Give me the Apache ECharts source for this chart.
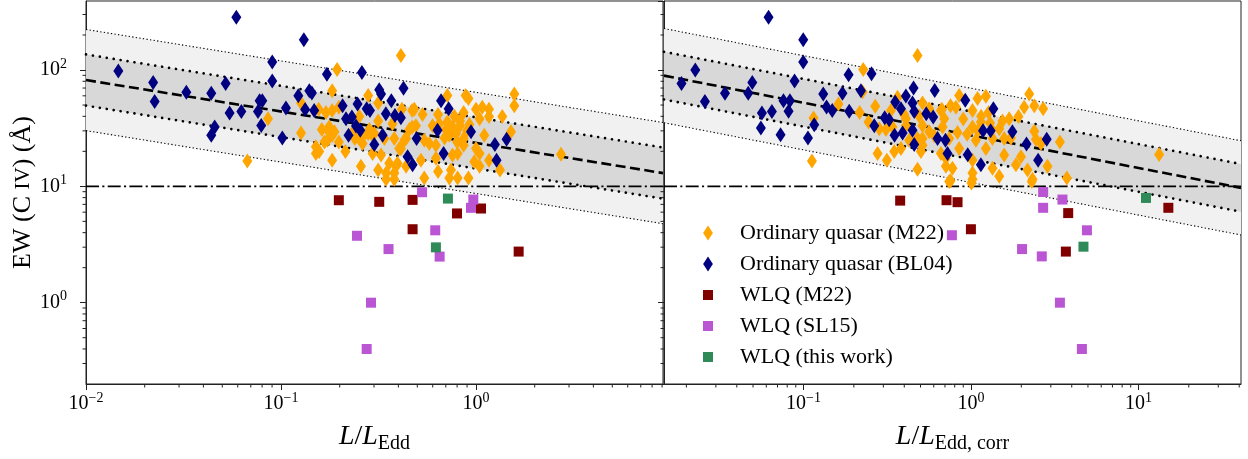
<!DOCTYPE html>
<html><head><meta charset="utf-8">
<script src="https://cdn.jsdelivr.net/npm/echarts@6/dist/echarts.min.js"></script>
<style>html,body{margin:0;padding:0;background:#fff}#c{width:1248px;height:459px}</style>
</head><body><div id="c"></div>
<script>
// ---------------- DATA ----------------
// Left panel: x = L/L_Edd, y = EW(C IV) [Å]
const leftOrdM22 = [[0.0672,16.5],[0.0858,38.1],[0.1267,28.8],[0.1267,52.1],[0.194,101],[0.183,66.2],[0.412,133],[0.28,60.5],[0.157,19.9],[0.151,21.9],[0.167,24.1],[0.183,16.8],[0.214,19.9],[0.257,14.9],[0.315,13.8],[0.346,11.5],[0.389,14.9],[0.381,11.5],[0.183,44.8],[0.17,43.2],[0.173,30.8],[0.188,29.4],[0.198,24.1],[0.239,30.8],[0.252,25.8],[0.28,28.4],[0.301,28.4],[0.315,52.1],[0.326,18.6],[0.404,21.2],[0.429,24.9],[0.455,30.8],[0.471,44.8],[0.492,33.2],[0.156,46],[0.198,47.9],[0.252,39.8],[0.315,36.4],[0.373,34.5],[0.417,46],[0.162,30.8],[0.177,32.4],[0.183,27.5],[0.173,24.9],[0.284,30.8],[0.295,27.5],[0.262,26.6],[0.239,25.8],[0.262,23.3],[0.339,25.8],[0.381,25.8],[0.151,19.2],[0.295,19.2],[0.346,13],[0.359,15.8],[0.396,15.8],[0.381,13],[0.713,60.5],[0.885,60.5],[0.915,56.9],[1.0,46],[1.077,47.9],[1.166,46],[1.572,62.1],[1.572,49.4],[1.364,39.8],[1.512,29.4],[0.483,46],[0.532,41.5],[0.639,41.5],[0.864,43.2],[1.043,38.1],[1.166,39.8],[0.471,32.4],[0.599,33.2],[0.713,35.7],[0.758,32.4],[0.828,33.2],[0.828,36.4],[0.702,30.8],[0.73,27.5],[0.79,28.4],[0.864,25.8],[1.103,27.5],[0.438,25.8],[0.543,24.9],[0.576,23.3],[0.623,22.6],[0.864,22.6],[1.0,21.2],[0.805,19.2],[0.758,18.6],[1.043,19.2],[0.623,17.4],[0.98,16.3],[1.166,16.8],[1.328,13.8],[0.438,14.9],[0.522,16.8],[0.639,13.4],[0.744,13.8],[0.543,11.8],[0.73,11.8],[0.805,11.8],[0.915,11.8],[1.043,14.9],[0.412,21.2],[2.73,18.9],[0.648,34.5],[0.775,40],[0.925,34],[0.8,24],[0.69,26],[0.9,30]];
const leftOrdBL04 = [[0.01465,98],[0.0221,78.2],[0.0225,53.5],[0.0327,64.3],[0.0439,63],[0.0439,27.5],[0.0457,32.4],[0.059,284],[0.052,76.6],[0.0545,42.8],[0.0626,44],[0.0762,44],[0.0777,54.5],[0.0802,54.5],[0.0792,33.4],[0.0902,117],[0.0902,80.5],[0.1016,26.1],[0.106,47.2],[0.131,182],[0.1227,60.1],[0.1397,66.2],[0.144,63.4],[0.133,45.7],[0.148,44.8],[0.172,91.8],[0.207,49.4],[0.2155,38.1],[0.231,39.4],[0.222,27.5],[0.247,51],[0.2425,33],[0.255,30.3],[0.26,95],[0.275,46.4],[0.286,44.8],[0.319,67.6],[0.326,62.1],[0.368,54.5],[0.345,42],[0.384,40.6],[0.412,38.8],[0.425,69.8],[0.332,27.5],[0.301,22.9],[0.446,18],[0.473,15.3],[0.496,25.8],[0.635,30.3],[0.662,54.5],[0.724,46.4],[0.682,19.2],[0.943,29.4],[1.25,22.9],[1.435,25.4],[1.275,16.8]];
const leftWlqM22 = [[0.198,7.6],[0.319,7.36],[0.473,7.65],[0.473,4.28],[0.799,5.85],[1.061,6.45],[1.655,2.75]];
const leftWlqSL15 = [[0.2453,3.76],[0.356,2.89],[0.2895,1.0],[0.275,0.40],[0.529,8.9],[0.969,7.7],[0.943,6.54],[0.618,4.19],[0.651,2.49]];
const leftWlqThis = [[0.718,7.85],[0.623,2.99]];

// Right panel: x = L/L_Edd,corr
const rightOrdM22 = [[0.2275,101],[0.48,133],[0.2254,65],[0.1618,51],[0.2684,48.9],[0.2165,43.2],[0.2447,35.7],[0.1149,38.6],[0.1124,16.5],[0.277,19.2],[0.315,16.8],[0.3484,19.9],[0.3645,58.2],[0.34,32.4],[0.311,30.8],[0.409,38.1],[0.514,52.1],[0.48,14],[0.503,19.9],[0.514,25.8],[0.5637,29.4],[0.677,32.4],[0.709,14.9],[0.756,11.2],[0.756,49.4],[0.814,47.9],[0.5637,46.4],[0.662,44.8],[0.693,38.1],[0.333,44.8],[0.4,41.2],[0.491,40.2],[0.2835,31.3],[0.409,33.2],[0.514,33.2],[0.604,27.2],[0.382,21.2],[0.428,24.9],[0.48,25.8],[0.514,22.6],[0.662,19.2],[0.709,17.4],[0.851,60.5],[1.095,56.9],[1.229,59.4],[2.23,62.1],[2.08,47.9],[2.39,49.4],[2.7,46.4],[1.923,39.8],[0.671,46],[1.022,44.8],[1.274,43.2],[1.544,36.4],[1.693,38.1],[0.832,29],[1.022,32.4],[1.147,35.7],[1.476,31.3],[1.58,25.8],[1.346,25.8],[1.071,24.9],[1.229,21.2],[0.851,21.2],[0.742,25.8],[2.39,29.7],[2.444,25.4],[2.618,23.3],[2.866,14.9],[3.4,24.1],[1.99,18],[1.857,15.3],[2.177,13.8],[1.58,18.6],[1.346,14.3],[1.022,16.8],[1.022,13],[0.776,14.3],[1.476,12.2],[1.022,11.5],[0.742,11],[2.332,11.5],[3.74,11.8],[1.335,30.8],[1.733,26.1],[13.3,18.8],[1.008,10.7],[2.31,11],[0.9,38],[1.15,40],[1.3,35],[0.95,28],[1.1,30]];
const rightOrdBL04 = [[0.0187,76.6],[0.0226,100],[0.0258,53.5],[0.034,63],[0.0468,63],[0.0495,78.2],[0.0565,42.8],[0.0557,31.8],[0.0648,44],[0.0619,284],[0.073,27.8],[0.076,54.5],[0.083,54.5],[0.0815,44.3],[0.0885,80.5],[0.0997,182],[0.0997,117],[0.1064,26.1],[0.116,33.9],[0.1313,62.1],[0.1374,48.2],[0.1486,44.8],[0.171,63],[0.186,91],[0.1876,44.3],[0.2205,66.2],[0.255,93.1],[0.2647,33.2],[0.3057,38.8],[0.325,37.3],[0.353,53.1],[0.382,46.4],[0.35,27.5],[0.391,28.7],[0.409,59.7],[0.4544,70.2],[0.4586,44.1],[0.448,30.4],[0.4586,22.9],[0.541,42],[0.5955,39.4],[0.608,66.8],[0.632,25.8],[0.705,24.9],[0.725,19.2],[0.925,55],[1.362,46.4],[1.181,30.1],[1.311,30.1],[1.769,29.4],[0.957,18.7],[1.147,15.3],[2.148,23.1],[2.835,25.4],[2.52,16.8],[0.448,52.1]];
const rightWlqM22 = [[0.378,7.54],[0.715,7.6],[0.832,7.31],[1.0,4.28],[3.81,5.89],[15.1,6.54],[3.69,2.75]];
const rightWlqSL15 = [[0.77,3.8],[2.02,2.89],[2.65,2.5],[2.7,8.94],[2.7,6.54],[3.52,7.7],[4.93,4.19],[3.4,1.0],[4.6,0.40]];
const rightWlqThis = [[11.1,7.95],[4.7,3.03]];

// Axis ranges
const xRangeLeft = [0.01, 9.1];
const xRangeRight = [0.0147, 41];
const yRange = [0.2, 392];
// Best-fit relation: EW at the two ends of each x range, and band half-widths (dex)
const fitLeft = [82, 13];
const fitRight = [89.5, 9.7];
const innerWidth = [0.22, 0.205];
const outerWidth = [0.435, 0.405];
const ewCut = 10;
// Names
const seriesNames = ['Ordinary quasar (M22)','Ordinary quasar (BL04)','WLQ (M22)','WLQ (SL15)','WLQ (this work)'];
const colors = ['#ffa500','#000080','#800000','#ba55d3','#2e8b57'];

// ---------------- CHART ----------------
const FONT = 'Liberation Serif';
const AX = '#222';
const chart = echarts.init(document.getElementById('c'), null, {renderer:'canvas'});

function tickFmt(v){
  const e = Math.round(Math.log10(v));
  return '{b|10}{s|' + (e < 0 ? '\u2212' + (-e) : e) + '}';
}
const tickRich = {
  b:{fontSize:20, fontFamily:FONT, color:'#000', lineHeight:26},
  s:{fontSize:14, fontFamily:FONT, color:'#000', lineHeight:12, verticalAlign:'top'}
};

function xAxisCfg(gi, xr, name){
  return {
    type:'log', gridIndex:gi, min:xr[0], max:xr[1], logBase:10,
    splitLine:{show:false},
    axisLine:{show:true, lineStyle:{color:AX, width:1}},
    axisTick:{show:true, inside:false, length:6, lineStyle:{color:AX, width:1}},
    axisLabel:{formatter:tickFmt, rich:tickRich, margin:7, showMinLabel: gi===0, showMaxLabel:false},
    name:name, nameLocation:'middle', nameGap:36,
    nameTextStyle:{fontFamily:FONT, fontSize:28, color:'#000', lineHeight:34,
      rich:{
        i:{fontFamily:FONT, fontSize:28, fontStyle:'italic', color:'#000', lineHeight:34},
        r:{fontFamily:FONT, fontSize:28, color:'#000', lineHeight:34},
        u:{fontFamily:FONT, fontSize:20, color:'#000', lineHeight:22, verticalAlign:'bottom'}
      }}
  };
}
function yAxisCfg(gi){
  return {
    type:'log', gridIndex:gi, min:yRange[0], max:yRange[1], logBase:10,
    splitLine:{show:false},
    axisLine:{show:true, lineStyle:{color:AX, width:1}},
    axisTick:{show:true, inside:false, length:6, lineStyle:{color:AX, width:1}},
    axisLabel:{show: gi===0, formatter:tickFmt, rich:tickRich, margin:19, showMinLabel:false, showMaxLabel:false},
    name: gi===0 ? 'EW (C {sc|IV}) (Å)' : '', nameLocation:'middle', nameGap:46,
    nameTextStyle:{fontFamily:FONT, fontSize:26, color:'#000',
      rich:{sc:{fontFamily:FONT, fontSize:21, color:'#000'}}}
  };
}

function minorValues(lo, hi){
  const out = [];
  for (let e = Math.floor(Math.log10(lo)); e <= Math.ceil(Math.log10(hi)); e++){
    for (let m = 2; m <= 9; m++){
      const v = m * Math.pow(10, e);
      if (v > lo * 1.0001 && v < hi * 0.9999) out.push(v);
    }
  }
  return out;
}
function minorTickSeries(gi, xr){
  const data = [];
  minorValues(xr[0], xr[1]).forEach(v => data.push([v, yRange[0], 0]));
  minorValues(yRange[0], yRange[1]).forEach(v => data.push([xr[0], v, 1]));
  return {
    type:'custom', xAxisIndex:gi, yAxisIndex:gi, silent:true, z:5, clip:false,
    encode:{x:0, y:1}, data:data,
    renderItem(params, api){
      const p = api.coord([api.value(0), api.value(1)]);
      const shape = api.value(2) === 0
        ? {x1:p[0], y1:p[1], x2:p[0], y2:p[1] + 3.5}
        : {x1:p[0] - 3.5, y1:p[1], x2:p[0], y2:p[1]};
      return {type:'line', shape:shape, style:{stroke:AX, lineWidth:1}};
    }
  };
}
function bandSeries(gi, xr, fit, w, color, z){
  return {
    type:'custom', xAxisIndex:gi, yAxisIndex:gi, silent:true, z:z,
    encode:{x:0, y:1}, data:[[xr[0], fit[0]]],
    renderItem(params, api){
      const hi = Math.pow(10, w), lo = Math.pow(10, -w);
      const pts = [
        api.coord([xr[0], fit[0]*hi]), api.coord([xr[1], fit[1]*hi]),
        api.coord([xr[1], fit[1]*lo]), api.coord([xr[0], fit[0]*lo])
      ];
      return {type:'polygon', shape:{points:pts}, style:{fill:color}};
    }
  };
}
function lineSeries(gi, xr, ys, style, z){
  return {
    type:'line', xAxisIndex:gi, yAxisIndex:gi, silent:true, z:z,
    data:[[xr[0], ys[0]], [xr[1], ys[1]]], symbol:'none', showSymbol:false,
    lineStyle:style, animation:false
  };
}
function scatter(gi, idx, data, z){
  const diamond = idx < 2;
  return {
    type:'scatter', name:seriesNames[idx], xAxisIndex:gi, yAxisIndex:gi, z:z,
    data:data, symbol: diamond ? 'diamond' : 'rect',
    symbolSize: diamond ? [10,15] : [10,10],
    itemStyle:{color:colors[idx], opacity:1}
  };
}
function panelSeries(gi, xr, fit, wIn, wOut, sets){
  const s = [];
  s.push(bandSeries(gi, xr, fit, wOut, '#f1f1f1', 1));
  s.push(bandSeries(gi, xr, fit, wIn, '#d8d8d8', 1.1));
  const hiO = Math.pow(10, wOut), loO = Math.pow(10, -wOut);
  const hiI = Math.pow(10, wIn), loI = Math.pow(10, -wIn);
  const thin = {color:'#000', width:1.1, type:[1.3, 2.3]};
  const dots = {color:'#000', width:2.7, type:[0.01, 7], cap:'round'};
  s.push(lineSeries(gi, xr, [fit[0]*hiO, fit[1]*hiO], thin, 1.5));
  s.push(lineSeries(gi, xr, [fit[0]*loO, fit[1]*loO], thin, 1.5));
  s.push(lineSeries(gi, xr, [fit[0]*hiI, fit[1]*hiI], dots, 1.5));
  s.push(lineSeries(gi, xr, [fit[0]*loI, fit[1]*loI], dots, 1.5));
  s.push(lineSeries(gi, xr, fit, {color:'#000', width:2.6, type:[10, 4.5]}, 1.6));
  s.push(lineSeries(gi, xr, [ewCut, ewCut], {color:'#000', width:1.6, type:[13, 3.3, 2.1, 3.3]}, 1.6));
  sets.forEach((d, i) => s.push(scatter(gi, i, d, 3 + i*0.1)));
  s.push(minorTickSeries(gi, xr));
  return s;
}

const option = {
  animation:false,
  backgroundColor:'#fff',
  grid:[
    {left:86, top:1, width:577, height:387, show:true, borderColor:AX, borderWidth:1, backgroundColor:'transparent'},
    {left:664, top:1, width:577, height:387, show:true, borderColor:AX, borderWidth:1, backgroundColor:'transparent'}
  ],
  xAxis:[
    xAxisCfg(0, xRangeLeft, '{i|L}{r|/}{i|L}{u|Edd}'),
    xAxisCfg(1, xRangeRight, '{i|L}{r|/}{i|L}{u|Edd, corr}')
  ],
  yAxis:[yAxisCfg(0), yAxisCfg(1)],
  legend:{
    show:true, orient:'vertical', left:698, top:217,
    itemWidth:10, itemHeight:15, itemGap:9, symbolKeepAspect:true,
    textStyle:{fontFamily:FONT, fontSize:22, color:'#000', padding:[0,0,0,22]},
    data:seriesNames.map((n, i) => ({name:n,
      icon: i < 2 ? 'path://M0.65,0L1.3,1L0.65,2L0,1Z' : 'path://M0,0L1,0L1,1L0,1Z'}))
  },
  series:[].concat(
    panelSeries(0, xRangeLeft, fitLeft, innerWidth[0], outerWidth[0],
      [leftOrdM22, leftOrdBL04, leftWlqM22, leftWlqSL15, leftWlqThis]),
    panelSeries(1, xRangeRight, fitRight, innerWidth[1], outerWidth[1],
      [rightOrdM22, rightOrdBL04, rightWlqM22, rightWlqSL15, rightWlqThis])
  )
};
chart.setOption(option);
</script>
</body></html>
